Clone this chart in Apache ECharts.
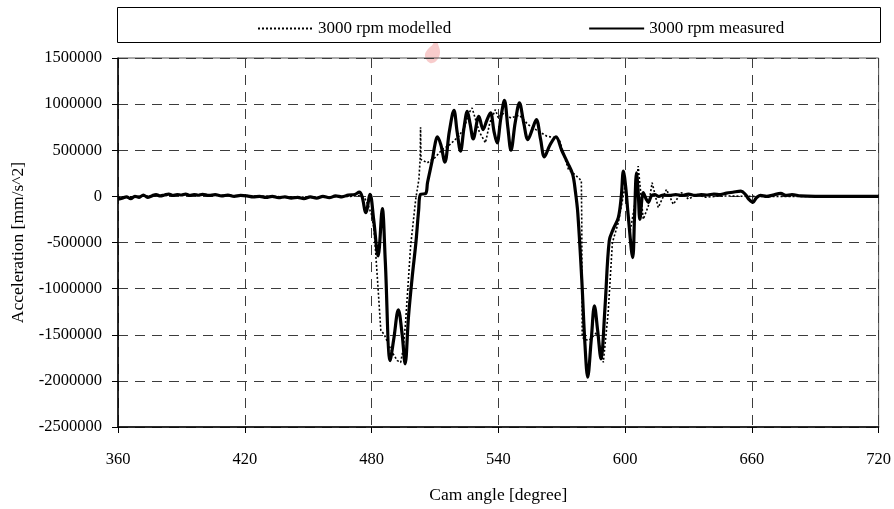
<!DOCTYPE html>
<html>
<head>
<meta charset="utf-8">
<title>Cam acceleration, 3000 rpm</title>
<script src="https://cdn.jsdelivr.net/npm/echarts@6/dist/echarts.min.js"></script>
<style>
  html, body { margin: 0; padding: 0; background: #fff; }
  #chart { width: 894px; height: 509px; }
</style>
</head>
<body>
<div id="chart"></div>
<script>
// Axis ticks
const angleTicks = [360, 420, 480, 540, 600, 660, 720];
const accelTicks = [-2500000, -2000000, -1500000, -1000000, -500000, 0, 500000, 1000000, 1500000];

// Measured acceleration, 3000 rpm
const measuredAngle = [
  360, 362, 364, 366, 368, 370, 372, 374, 376, 378, 380, 382, 384, 386, 388, 390, 392, 394, 396, 398,
  400, 403, 406, 409, 412, 415, 418, 421, 424, 427, 430, 433, 436, 439, 442, 445, 448, 451, 454, 457,
  460, 463, 466, 469, 472, 474.2, 475.5, 477.3, 479.3, 481, 483.1, 485.1, 486.5, 488.8, 490.5, 492.7,
  494.5, 495.9, 497.5, 499.3, 501, 502.3, 503.2, 505.6, 506.5, 508.8, 510, 511.1, 512.8, 514.7, 516.8,
  519, 520.5, 522.1, 523.8, 525.3, 526.7, 528.1, 530.8, 532.8, 534.5, 536.3, 538, 539.4, 541.2, 542.9,
  544.5, 546, 548, 550, 552, 554, 556, 558, 560, 561.8, 564.5, 567.3, 570, 572.8, 575.2, 576.5, 577.6,
  579.5, 581, 582.3, 584, 585.5, 587, 588.6, 590.5, 592.5, 594.5, 596.8, 598.2, 599.2, 600.3, 601.5,
  603.6, 604.5, 605.4, 606.2, 607, 608.6, 610, 611, 612.5, 614, 616, 618, 621, 624, 627, 630, 633, 636,
  639, 642, 645, 648, 651, 654.8, 657, 658.5, 660.5, 662, 664, 667, 670, 673.7, 676, 679, 683, 690,
  700, 710, 720
];
const measuredAccel = [
  -30000, -20000, -5000, -25000, 0, -10000, 15000, -10000, 5000, 20000, 5000, 15000, 25000, 10000, 20000, 15000, 25000, 10000, 20000, 12000,
  22000, 10000, 18000, 5000, 15000, 0, 10000, 5000, -5000, 0, -10000, 0, -15000, -5000, -20000, -10000, -25000, -5000, -20000, 0,
  -15000, 5000, -5000, 15000, 20000, 45000, 0, -176000, 22000, -250000, -645000, -133000, -700000, -1780000, -1550000, -1229000,
  -1500000, -1816000, -1300000, -862000, -500000, -150000, 22000, 30000, 150000, 400000, 560000, 645000, 560000, 371000, 700000,
  933000, 700000, 490000, 750000, 922000, 780000, 624000, 868000, 724000, 820000, 905000, 700000, 580000, 850000, 1041000,
  750000, 500000, 800000, 1013000, 800000, 616000, 720000, 832000, 620000, 429000, 560000, 645000, 500000, 364000, 238000, 50000, -176000,
  -900000, -1600000, -1960000, -1550000, -1186000, -1450000, -1762000, -1200000, -483000, -350000, -230000, 0, 274000, 100000, -213000,
  -663000, -200000, 256000, 50000, -249000, 40000, -30000, -65000, 10000, 20000, 0, 15000, 10000, 20000, 10000, 25000, 10000, 20000,
  15000, 25000, 20000, 35000, 45000, 57000, 20000, -30000, -65000, -20000, 10000, 0, 15000, 32000, 10000, 20000, 5000, 0,
  0, 0, 0
];

// Modelled acceleration, 3000 rpm
const modelledAngle = [
  360, 365, 370, 375, 380, 390, 400, 410, 420, 430, 440, 450, 460, 470, 475, 477, 478.5, 480, 481.2,
  482.8, 484.4, 485.9, 488.3, 490, 492.2, 493.8, 495, 496.1, 498.5, 500.9, 502.4, 503, 503.2, 503.4,
  504, 506.4, 510, 513.5, 517, 521.3, 524, 526, 527.6, 529, 531, 533.9, 536, 538.6, 540, 542, 546, 550,
  554, 558, 563, 566, 568.9, 571, 573.2, 576, 578, 579.3, 579.5, 579.7, 580.5, 583, 586.6, 589.7, 592,
  594, 596.8, 598.4, 600, 602.3, 604.5, 606.2, 608.6, 611, 612.8, 615.7, 619.6, 622.8, 626.7, 630, 634,
  638, 645, 660, 690, 720
];
const modelledAccel = [
  -10000, -5000, 0, 5000, 10000, 15000, 15000, 10000, 5000, 0, -5000, -10000, -5000, 0, 10000, -30000, -100000, -200000, -356000,
  -897000, -1456000, -1492000, -1618000, -1700000, -1780000, -1800000, -1650000, -1366000, -537000, -32000, 184000, 400000, 750000, 400000,
  382000, 364000, 420000, 508000, 560000, 652000, 750000, 900000, 959000, 850000, 700000, 580000, 800000, 940000, 850000, 900000, 850000, 880000,
  780000, 720000, 652000, 640000, 616000, 450000, 292000, 240000, 200000, 170000, -300000, -1510000, -1550000, -1560000, -1474000, -1800000, -1258000,
  -500000, -284000, -86000, 110000, -393000, -100000, 328000, -249000, -105000, 148000, -122000, 76000, -86000, 40000, -30000, 20000,
  -10000, 5000, 0, 0, 0
];

const toPairs = (xs, ys) => xs.map((x, i) => [x, ys[i]]);

const FONT = '"Liberation Serif", "Times New Roman", serif';
const gridColor = '#3c3c3c';

const chart = echarts.init(document.getElementById('chart'), null, { renderer: 'canvas' });

chart.setOption({
  animation: false,
  backgroundColor: '#ffffff',
  textStyle: { fontFamily: FONT, color: '#000' },
  grid: {
    left: 118, right: 14, top: 58, bottom: 81,
    show: true, borderColor: '#555', borderWidth: 1
  },
  graphic: [
    {
      // faint pink flame emblem peeking out under the legend frame
      type: 'polygon',
      shape: {
        points: [[436, 36], [438, 44], [440, 51], [439, 57], [435, 62], [430, 63], [426, 59], [425, 54], [428, 49], [433, 44]],
        smooth: 0.35
      },
      style: { fill: '#f4b0b0', opacity: 0.65 },
      z: -2
    },
    {
      type: 'rect',
      shape: { x: 117.5, y: 7.5, width: 763, height: 35 },
      style: { fill: '#fff', stroke: '#000', lineWidth: 1 },
      z: -1
    }
  ],
  legend: {
    left: 252, top: 15,
    itemWidth: 55, itemHeight: 14, itemGap: 137,
    itemStyle: { opacity: 0 },
    textStyle: { fontFamily: FONT, fontSize: 17, color: '#000' },
    data: ['3000 rpm modelled', '3000 rpm measured']
  },
  xAxis: {
    type: 'value',
    min: angleTicks[0], max: angleTicks[angleTicks.length - 1], interval: 60,
    name: 'Cam angle [degree]', nameLocation: 'middle', nameGap: 59,
    nameTextStyle: { fontFamily: FONT, fontSize: 17.5, color: '#000' },
    axisLine: { show: true, onZero: false, lineStyle: { color: '#000', width: 1.5 } },
    axisTick: { show: true, inside: false, length: 6, lineStyle: { color: '#000' } },
    axisLabel: { margin: 24, fontFamily: FONT, fontSize: 16.5, color: '#000', formatter: v => String(v) },
    splitLine: { show: true, lineStyle: { color: gridColor, width: 1, type: [10, 7] } }
  },
  yAxis: {
    type: 'value',
    min: accelTicks[0], max: accelTicks[accelTicks.length - 1], interval: 500000,
    name: 'Acceleration [mm/s^2]', nameLocation: 'middle', nameGap: 88,
    nameTextStyle: { fontFamily: FONT, fontSize: 17.5, color: '#000' },
    axisLine: { show: true, onZero: false, lineStyle: { color: '#000', width: 1.5 } },
    axisTick: { show: true, inside: false, length: 6, lineStyle: { color: '#000' } },
    axisLabel: { margin: 16, fontFamily: FONT, fontSize: 16.5, color: '#000', formatter: v => String(v) },
    splitLine: { show: true, lineStyle: { color: gridColor, width: 1, type: [10, 7] } }
  },
  series: [
    {
      name: '3000 rpm measured',
      type: 'line',
      data: toPairs(measuredAngle, measuredAccel),
      symbol: 'none',
      smooth: 0.35,
      lineStyle: { color: '#000', width: 3.2 },
      itemStyle: { color: '#000' },
      z: 2
    },
    {
      name: '3000 rpm modelled',
      type: 'line',
      data: toPairs(modelledAngle, modelledAccel),
      symbol: 'none',
      smooth: false,
      lineStyle: { color: '#000', width: 1.6, type: [2, 2] },
      itemStyle: { color: '#000' },
      z: 3
    }
  ]
});
</script>
</body>
</html>
